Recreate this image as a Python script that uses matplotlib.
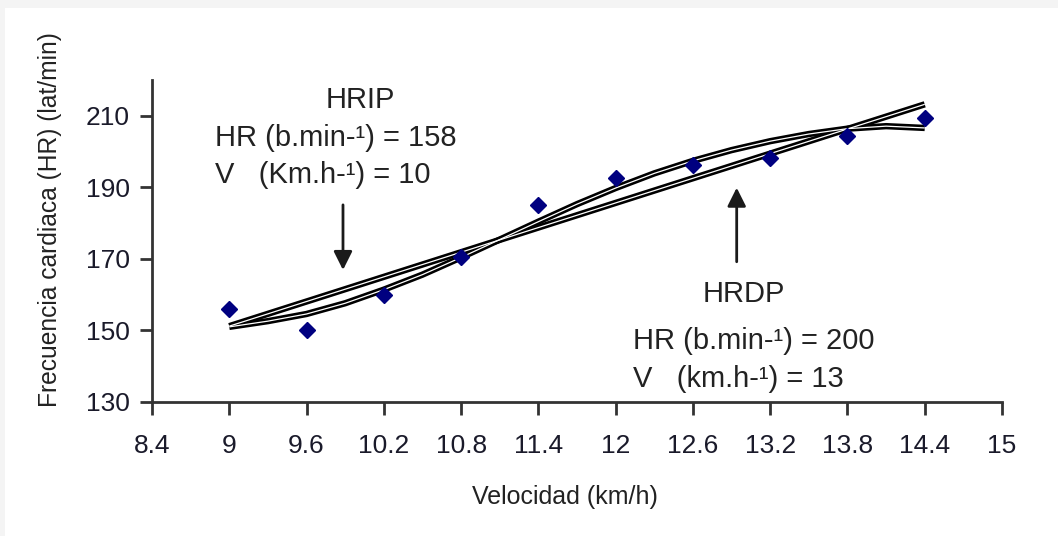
import matplotlib.pyplot as plt
from matplotlib.patches import Rectangle

plt.rcParams['font.family'] = ['Liberation Sans', 'DejaVu Sans']

# puntos medidos
vel = [9, 9.6, 10.2, 10.8, 11.4, 12, 12.6, 13.2, 13.8, 14.4]
fc = [156, 150, 160, 170.5, 185, 192.5, 196.3, 198.2, 204.4, 209.5]

# recta de ajuste (extremos)
lin_x = [9, 14.4]
lin_y = [151.2, 213.2]

# curva polinomica
poly_x = [9, 9.3, 9.6, 9.9, 10.2, 10.5, 10.8, 11.1, 11.4, 11.7, 12.0,
          12.3, 12.6, 12.9, 13.2, 13.5, 13.8, 14.1, 14.4]
poly_y = [151, 152.6, 154.6, 157.6, 161.4, 165.6, 170.4, 175.4, 180.4,
          185.3, 189.8, 193.9, 197.4, 200.4, 202.9, 204.9, 206.4, 207.1, 206.6]

xticks = [8.4, 9, 9.6, 10.2, 10.8, 11.4, 12, 12.6, 13.2, 13.8, 14.4, 15]
xtick_labels = ['8.4', '9', '9.6', '10.2', '10.8', '11.4', '12', '12.6', '13.2', '13.8', '14.4', '15']
yticks = [130, 150, 170, 190, 210]

fig = plt.figure(figsize=(10.58, 5.36), dpi=100)
fig.patch.set_facecolor('#f4f4f4')
fig.patches.append(Rectangle((5 / 1058, 0), 1, 1 - 8 / 536, transform=fig.transFigure,
                             facecolor='white', edgecolor='none', zorder=-10))

ax = fig.add_axes([152 / 1058, 1 - 402 / 536, 850 / 1058, 322 / 536])
ax.set_facecolor('none')

# lineas "huecas": negro grueso + blanco fino
for xs, ys in [(lin_x, lin_y), (poly_x, poly_y)]:
    ax.plot(xs, ys, color='black', lw=4.6, solid_capstyle='butt', zorder=2)
for xs, ys in [(lin_x, lin_y), (poly_x, poly_y)]:
    ax.plot(xs, ys, color='white', lw=0.9, solid_capstyle='butt', zorder=3)

ax.plot(vel, fc, linestyle='none', marker='D', color='#000080', ms=8.5, zorder=4)

ax.set_xlim(8.4, 15)
ax.set_ylim(130, 220)
ax.set_xticks(xticks)
ax.set_xticklabels(xtick_labels)
ax.set_yticks(yticks)

for s in ['top', 'right']:
    ax.spines[s].set_visible(False)
for s in ['left', 'bottom']:
    ax.spines[s].set_color('#333333')
    ax.spines[s].set_linewidth(2)
ax.tick_params(axis='both', direction='out', width=2, color='#333333',
               labelsize=19, labelcolor='#1a1a2a')
ax.tick_params(axis='x', length=9, pad=14)
ax.tick_params(axis='y', length=9, pad=7)

# textos
ax.text(10.015, 212.2, 'HRIP', fontsize=21, color='#222222', ha='center', va='baseline')
ax.text(8.889, 201.6, 'HR (b.min-\u00b9) = 158', fontsize=21, color='#222222', va='baseline')
ax.text(8.889, 191.3, 'V   (Km.h-\u00b9) = 10', fontsize=21, color='#222222', va='baseline')
ax.text(12.997, 158.0, 'HRDP', fontsize=21, color='#222222', ha='center', va='baseline')
ax.text(12.135, 144.8, 'HR (b.min-\u00b9) = 200', fontsize=21, color='#222222', va='baseline')
ax.text(12.135, 134.2, 'V   (km.h-\u00b9) = 13', fontsize=21, color='#222222', va='baseline')

# flechas
ax.annotate('', xy=(9.883, 166.9), xytext=(9.883, 185.1),
            arrowprops=dict(arrowstyle='-|>', color='#1a1a1a', lw=2, mutation_scale=28,
                            shrinkA=0, shrinkB=0))
ax.annotate('', xy=(12.94, 189.9), xytext=(12.94, 169.2),
            arrowprops=dict(arrowstyle='-|>', color='#1a1a1a', lw=2, mutation_scale=28,
                            shrinkA=0, shrinkB=0))

fig.text(565 / 1058, 1 - 497 / 536, 'Velocidad (km/h)', fontsize=18, color='#222222',
         ha='center', va='center')
fig.text(50 / 1058, 1 - 220 / 536, 'Frecuencia cardiaca (HR) (lat/min)', fontsize=17.7,
         color='#222222', ha='center', va='center', rotation=90)

fig.savefig('out.png', dpi=100, facecolor=fig.get_facecolor())
